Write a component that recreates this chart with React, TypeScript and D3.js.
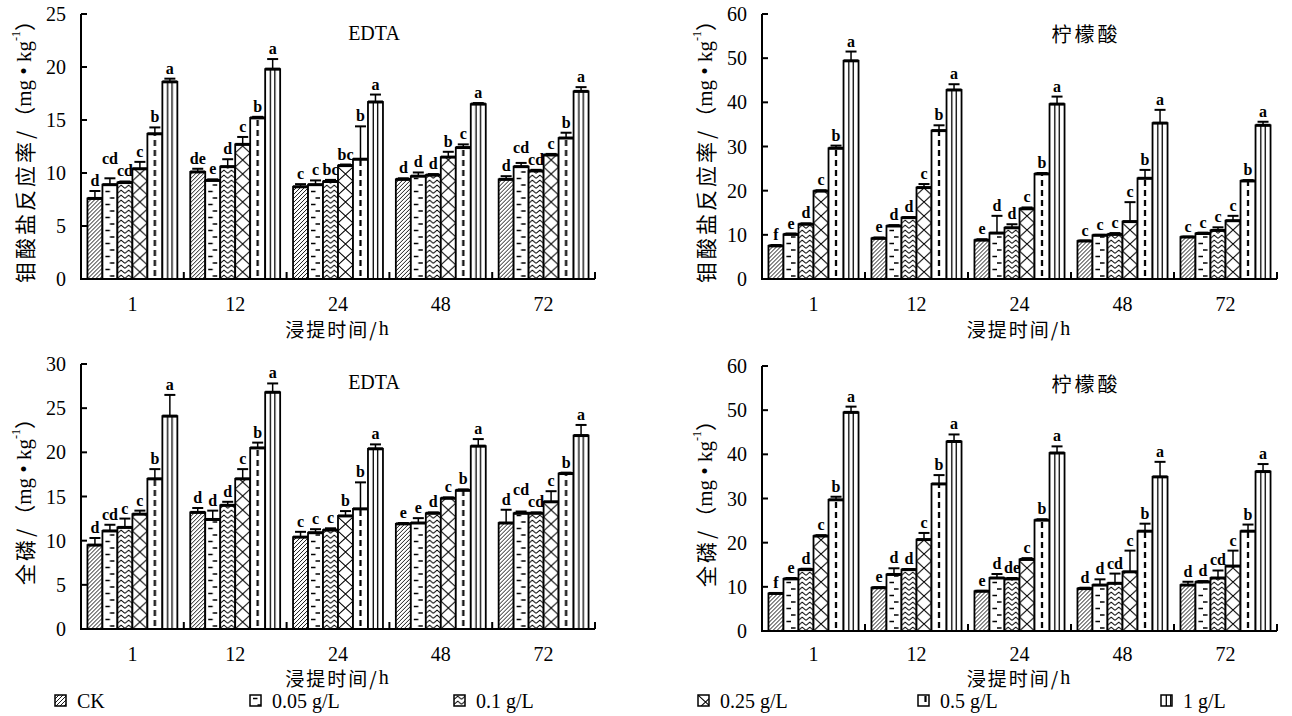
import * as d3 from "d3"
import React from "react"

const times = ["1", "12", "24", "48", "72"]
const seriesNames = ["CK", "0.05 g/L", "0.1 g/L", "0.25 g/L", "0.5 g/L", "1 g/L"]

// 钼酸盐反应率, EDTA (one row per extraction time, one value per dose)
const moEdtaMean = [
  [7.6, 8.9, 9.1, 10.4, 13.7, 18.6],
  [10.1, 9.3, 10.6, 12.7, 15.2, 19.8],
  [8.7, 8.9, 9.2, 10.7, 11.3, 16.7],
  [9.4, 9.7, 9.8, 11.5, 12.4, 16.5],
  [9.4, 10.6, 10.2, 11.7, 13.3, 17.7],
]
const moEdtaErr = [
  [0.7, 0.6, 0.1, 0.65, 0.6, 0.3],
  [0.3, 0.1, 0.7, 0.7, 0.1, 0.95],
  [0.25, 0.4, 0.15, 0.1, 3.1, 0.7],
  [0.1, 0.35, 0.1, 0.5, 0.3, 0.1],
  [0.3, 0.35, 0.1, 0.1, 0.5, 0.4],
]
const moEdtaSig = [
  ["d", "cd", "cd", "c", "b", "a"],
  ["de", "e", "d", "c", "b", "a"],
  ["c", "c", "bc", "bc", "b", "a"],
  ["d", "d", "d", "b", "c", "a"],
  ["d", "cd", "cd", "c", "b", "a"],
]

// 钼酸盐反应率, 柠檬酸
const moCitMean = [
  [7.5, 10.1, 12.4, 19.9, 29.6, 49.4],
  [9.2, 12.0, 13.9, 20.7, 33.6, 42.8],
  [8.8, 10.4, 11.6, 15.9, 23.8, 39.6],
  [8.6, 9.9, 10.1, 13.0, 22.8, 35.3],
  [9.5, 10.3, 11.0, 13.2, 22.2, 34.8],
]
const moCitErr = [
  [0.2, 0.2, 0.2, 0.2, 0.6, 2.1],
  [0.2, 0.2, 0.1, 0.8, 1.2, 1.3],
  [0.2, 3.9, 0.8, 0.3, 0.2, 1.7],
  [0.1, 0.1, 0.3, 4.4, 1.9, 3.0],
  [0.1, 0.2, 0.7, 1.1, 0.2, 0.8],
]
const moCitSig = [
  ["f", "e", "d", "c", "b", "a"],
  ["e", "d", "d", "c", "b", "a"],
  ["e", "d", "d", "c", "b", "a"],
  ["c", "c", "c", "c", "b", "a"],
  ["c", "c", "c", "c", "b", "a"],
]

// 全磷, EDTA
const pEdtaMean = [
  [9.5, 11.1, 11.5, 13.0, 17.0, 24.1],
  [13.2, 12.4, 14.0, 17.0, 20.5, 26.8],
  [10.4, 10.9, 11.2, 12.8, 13.6, 20.4],
  [11.9, 12.0, 13.1, 14.8, 15.7, 20.7],
  [12.0, 13.1, 13.1, 14.4, 17.6, 21.9],
]
const pEdtaErr = [
  [0.8, 0.7, 1.0, 0.4, 1.1, 2.4],
  [0.5, 1.0, 0.4, 1.1, 0.6, 1.0],
  [0.6, 0.4, 0.2, 0.55, 3.0, 0.5],
  [0.1, 0.55, 0.1, 0.1, 0.1, 0.8],
  [1.5, 0.2, 0.1, 1.2, 0.1, 1.2],
]
const pEdtaSig = [
  ["d", "cd", "c", "c", "b", "a"],
  ["d", "d", "d", "c", "b", "a"],
  ["c", "c", "c", "b", "b", "a"],
  ["e", "e", "d", "c", "b", "a"],
  ["d", "cd", "cd", "c", "b", "a"],
]

// 全磷, 柠檬酸
const pCitMean = [
  [8.5, 11.8, 13.9, 21.5, 29.7, 49.5],
  [9.8, 12.8, 13.9, 20.7, 33.3, 42.9],
  [9.0, 12.0, 11.8, 16.2, 25.1, 40.3],
  [9.6, 10.4, 10.8, 13.4, 22.6, 34.9],
  [10.4, 11.1, 12.0, 14.7, 22.6, 36.1],
]
const pCitErr = [
  [0.1, 0.2, 0.2, 0.2, 0.7, 1.3],
  [0.1, 1.4, 0.1, 1.5, 2.0, 1.6],
  [0.1, 0.9, 0.2, 0.3, 0.2, 1.5],
  [0.2, 1.3, 2.2, 4.8, 1.7, 3.4],
  [0.75, 0.2, 1.7, 3.5, 1.5, 1.7],
]
const pCitSig = [
  ["f", "e", "d", "c", "b", "a"],
  ["e", "d", "d", "c", "b", "a"],
  ["e", "d", "de", "c", "b", "a"],
  ["d", "d", "cd", "c", "b", "a"],
  ["d", "d", "cd", "c", "b", "a"],
]

const SERIF = "'Liberation Serif', 'Times New Roman', serif"
const CJK = "'Noto Sans CJK SC', sans-serif"

// panel frames
const panels = [
  { mean: moEdtaMean, err: moEdtaErr, sig: moEdtaSig, max: 25, step: 5, title: "EDTA", yName: "钼酸盐反应率",
    x0: 81, x1: 595, yTop: 14, yBase: 279, titleX: 374, titleY: 33, tickDy: 25, xTitleY: 328 },
  { mean: moCitMean, err: moCitErr, sig: moCitSig, max: 60, step: 10, title: "柠檬酸", yName: "钼酸盐反应率",
    x0: 762, x1: 1277, yTop: 14, yBase: 279, titleX: 1086, titleY: 33, tickDy: 25, xTitleY: 328 },
  { mean: pEdtaMean, err: pEdtaErr, sig: pEdtaSig, max: 30, step: 5, title: "EDTA", yName: "全磷",
    x0: 81, x1: 595, yTop: 364, yBase: 629, titleX: 374, titleY: 382, tickDy: 25, xTitleY: 677 },
  { mean: pCitMean, err: pCitErr, sig: pCitSig, max: 60, step: 10, title: "柠檬酸", yName: "全磷",
    x0: 762, x1: 1277, yTop: 366, yBase: 631, titleX: 1086, titleY: 383, tickDy: 23, xTitleY: 677 },
]

const legendX = [55, 250, 454, 698, 918, 1161]

const Patterns = ({ id, bw }) => (
  <>
    <pattern id={`${id}-0`} patternUnits="userSpaceOnUse" width={4} height={4}>
      <rect width={4} height={4} fill="#fff" />
      <path d="M-1,1 L1,-1 M0,4 L4,0 M3,5 L5,3" stroke="#000" strokeWidth={0.9} />
    </pattern>
    <pattern id={`${id}-1`} patternUnits="userSpaceOnUse" width={bw} height={13}>
      <rect width={bw} height={13} fill="#fff" />
      <path d={`M${bw * 0.2},3.5 H${bw * 0.5} M${bw * 0.5},10 H${bw * 0.8}`} stroke="#000" strokeWidth={1.4} />
    </pattern>
    <pattern id={`${id}-2`} patternUnits="userSpaceOnUse" width={bw / 2} height={5}>
      <rect width={bw / 2} height={5} fill="#fff" />
      <path d={`M0,4.3 L${bw / 4},1.2 L${bw / 2},4.3`} stroke="#000" strokeWidth={1} fill="none" />
    </pattern>
    <pattern id={`${id}-3`} patternUnits="userSpaceOnUse" width={bw} height={14}>
      <rect width={bw} height={14} fill="#fff" />
      <path d={`M0,0 L${bw},14 M${bw},0 L0,14`} stroke="#000" strokeWidth={1} />
    </pattern>
    <pattern id={`${id}-4`} patternUnits="userSpaceOnUse" width={bw} height={10}>
      <rect width={bw} height={10} fill="#fff" />
      <path d={`M${bw / 2},1 V7`} stroke="#000" strokeWidth={2.2} />
    </pattern>
    <pattern id={`${id}-5`} patternUnits="userSpaceOnUse" width={bw} height={10}>
      <rect width={bw} height={10} fill="#fff" />
      <path d={`M${bw / 2 - 2.2},0 V10 M${bw / 2 + 2.2},0 V10`} stroke="#000" strokeWidth={1.3} />
    </pattern>
  </>
)

const Panel = ({ p, idx }) => {
  const gx = d3.scaleBand().domain(times).range([p.x0, p.x1]).padding(0)
  const sx = d3.scaleBand().domain(d3.range(6).map(String))
    .range([0, gx.bandwidth()]).paddingInner(0).paddingOuter(0.43)
  const y = d3.scaleLinear().domain([0, p.max]).range([p.yBase, p.yTop])
  const bw = sx.bandwidth()
  const ticks = d3.range(0, p.max + 0.001, p.step)
  const pid = `pat${idx}`

  // significance letters, lifting the earlier one when two collide
  const labels = times.map((t, gi) => {
    const out = []
    p.mean[gi].forEach((v, si) => {
      const text = p.sig[gi][si]
      const cx = gx(t) + sx(String(si)) + bw / 2
      const w = text.length * 8
      const base = y(v + p.err[gi][si]) - 5
      const prev = out[si - 1]
      if (prev && Math.abs(prev.cx - cx) < (prev.w + w) / 2 + 1 && Math.abs(prev.base - base) < 12) {
        prev.base = Math.min(prev.base, base - 12)
      }
      out.push({ cx, w, base, text })
    })
    return out
  }).flat()

  const midY = (p.yTop + p.yBase) / 2
  const midX = (p.x0 + p.x1) / 2

  return (
    <g>
      <defs><Patterns id={pid} bw={bw} /></defs>

      {times.map((t, gi) => (
        <g key={t}>
          {p.mean[gi].map((v, si) => {
            const h = p.yBase - y(v)
            const eTop = y(v + p.err[gi][si]) - p.yBase
            return (
              <g key={si} transform={`translate(${gx(t) + sx(String(si))},${p.yBase})`}>
                <rect x={0} y={-h} width={bw} height={h} fill={`url(#${pid}-${si})`}
                  stroke="#000" strokeWidth={1.8} />
                <line x1={0} x2={bw} y1={-h} y2={-h} stroke="#000" strokeWidth={3} />
                <line x1={bw / 2} x2={bw / 2} y1={-h} y2={eTop} stroke="#000" strokeWidth={1.5} />
                <line x1={bw / 2 - 5.5} x2={bw / 2 + 5.5} y1={eTop} y2={eTop} stroke="#000" strokeWidth={2} />
              </g>
            )
          })}
        </g>
      ))}

      {labels.map((d, i) => (
        <text key={i} x={d.cx} y={d.base} textAnchor="middle" fontFamily={SERIF}
          fontWeight="bold" fontSize={16}>{d.text}</text>
      ))}

      {/* y axis */}
      <line x1={p.x0} x2={p.x0} y1={p.yTop} y2={p.yBase + 1} stroke="#000" strokeWidth={2} />
      {ticks.map(v => (
        <g key={v}>
          <line x1={p.x0} x2={p.x0 + 6} y1={y(v)} y2={y(v)} stroke="#000" strokeWidth={2} />
          <text x={p.x0 - 15} y={y(v)} textAnchor="end" dominantBaseline="central"
            fontFamily={SERIF} fontSize={20}>{v}</text>
        </g>
      ))}

      {/* x axis */}
      <line x1={p.x0 - 1} x2={p.x1} y1={p.yBase} y2={p.yBase} stroke="#000" strokeWidth={2} />
      {times.map((t, gi) => (
        <g key={t}>
          <line x1={gx(t) + gx.bandwidth()} x2={gx(t) + gx.bandwidth()} y1={p.yBase} y2={p.yBase - 7}
            stroke="#000" strokeWidth={2} />
          <text x={gx(t) + gx.bandwidth() / 2} y={p.yBase + p.tickDy} textAnchor="middle"
            dominantBaseline="central" fontFamily={SERIF} fontSize={20}>{t}</text>
        </g>
      ))}

      <text x={p.titleX} y={p.titleY} textAnchor="middle" dominantBaseline="central"
        fontFamily={p.title === "EDTA" ? SERIF : CJK} fontSize={20}
        letterSpacing={p.title === "EDTA" ? 0 : 3}>{p.title}</text>

      <text x={midX} y={p.xTitleY} textAnchor="middle" dominantBaseline="central"
        fontFamily={CJK} fontSize={19} letterSpacing={2}>
        浸提时间/<tspan fontFamily={SERIF} fontSize={20}>h</tspan>
      </text>

      <text transform={`translate(${p.x0 - 57},${midY}) rotate(-90)`} textAnchor="middle"
        dominantBaseline="central" fontSize={21}>
        <tspan fontFamily={CJK} letterSpacing={3}>{p.yName}/</tspan>
        <tspan fontFamily={CJK}>（</tspan>
        <tspan fontFamily={SERIF} fontSize={21}>mg • kg</tspan>
        <tspan fontFamily={SERIF} fontSize={12} dy={-8}>-1</tspan>
        <tspan fontFamily={CJK} dy={8}>）</tspan>
      </text>
    </g>
  )
}

export default function App() {
  return (
    <svg width={1292} height={716} style={{ position: "absolute", left: 0, top: 0, background: "#fff" }}>
      {panels.map((p, i) => <Panel key={i} p={p} idx={i} />)}
      {seriesNames.map((s, si) => (
        <g key={s} transform={`translate(${legendX[si]},${695})`}>
          <rect x={0} y={0} width={11} height={11} fill={`url(#pat0-${si})`} stroke="#000" strokeWidth={1.5} />
          <text x={22} y={6} dominantBaseline="central" fontFamily={SERIF} fontSize={20}>{s}</text>
        </g>
      ))}
    </svg>
  )
}
